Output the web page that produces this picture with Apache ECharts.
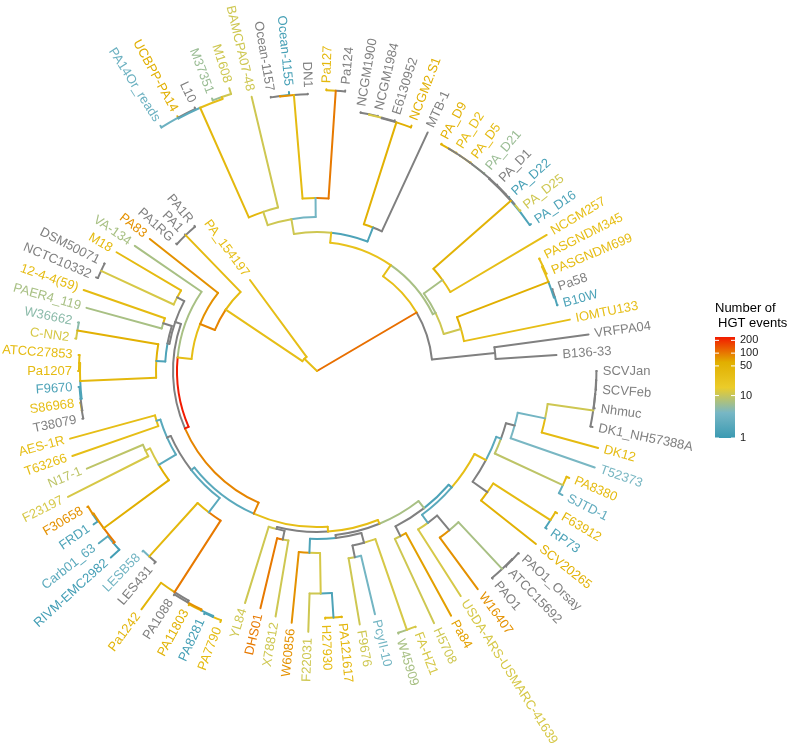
<!DOCTYPE html>
<html><head><meta charset="utf-8">
<script src="https://cdn.jsdelivr.net/npm/echarts@6/dist/echarts.min.js"></script>
<style>html,body{margin:0;padding:0;background:#fff}#c{width:787px;height:751px}</style>
</head><body><div id="c"></div>
<script>
// ---------- DATA ----------
// Tips in leaf order (clockwise, starting at SCVJan)
const tipNames = ["SCVJan","SCVFeb","Nhmuc","DK1_NH57388A","DK12","T52373","PA8380","SJTD-1","F63912","RP73",
"SCV20265","PAO1_Orsay","ATCC15692","PAO1","W16407","USDA-ARS-USMARC-41639","Pa84","H5708","FA-HZ1","W45909",
"PcyII-10","F9676","PA121617","H27930","F22031","W60856","X78812","DHS01","YL84","PA7790",
"PA8281","PA11803","PA1088","Pa1242","LES431","LESB58","RIVM-EMC2982","Carb01_63","FRD1","F30658",
"F23197","N17-1","T63266","AES-1R","T38079","S86968","F9670","Pa1207","ATCC27853","C-NN2",
"W36662","PAER4_119","12-4-4(59)","NCTC10332","DSM50071","M18","VA-134","PA83","PA1RG","PA1",
"PA1R","PA_154197","PA14Or_reads","UCBPP-PA14","L10","M37351","M1608","BAMCPA07-48","Ocean-1157","Ocean-1155",
"DN1","Pa127","Pa124","NCGM1900","NCGM1984","E6130952","NCGM2.S1","MTB-1","PA_D9","PA_D2",
"PA_D5","PA_D21","PA_D1","PA_D22","PA_D25","PA_D16","NCGM257","PASGNDM345","PASGNDM699","Pa58",
"B10W","IOMTU133","VRFPA04","B136-33"];
const tipParent = ["NS1","NS1","NS2","NS","NSD","NT5","NPS","NPS","NFR6","NFR6",
"NSC","NPAO1","NPAO1","NPAO","NPW","NUP","NPH","NPH","NFW","NFW",
"NPF","NPF","NPH2","NPH2","NF22","NW6","NXD","NXD","NYX","N3",
"N3","N2","N1","NPA","NL","NL","NFR2","NFR2","NFR1","NFR1",
"NF","NF","NAT","NAT","NA3","NA3","NA2","NA1","NA1","NWC",
"NWC","N12P","N12P","NDa","NDa","NM","E","D","NPA1","NPA1",
"NPA1","B","NP","NP","NP","NMM","NMM","NB","NO1","NO1",
"NO","NPa","NPa","NC1","NC1","NC2","NC3","NX","ND6","ND6",
"ND5","ND4","ND3","ND2","ND2","ND","NQ","NG1","NG1","NG2",
"NG2","NI","NVB","NVB"];
// distance from root (tip depth)
const tipDepth = [0.2798,0.2798,0.2802,0.2812,0.2915,0.2940,0.2740,0.2750,0.2790,0.2785,
0.2790,0.2722,0.2722,0.2720,0.2710,0.2670,0.2790,0.2780,0.2745,0.2750,
0.2500,0.2570,0.2475,0.2480,0.2610,0.2530,0.2490,0.2440,0.2430,0.2690,
0.2680,0.2670,0.2660,0.2960,0.2520,0.2510,0.2780,0.2780,0.2710,0.2670,
0.2790,0.2500,0.2590,0.2560,0.2395,0.2390,0.2390,0.2390,0.2390,0.2440,
0.2440,0.2390,0.2470,0.2400,0.2385,0.2330,0.2210,0.2130,0.1900,0.1900,
0.1900,0.1130,0.2910,0.2905,0.2905,0.2920,0.2960,0.2820,0.2780,0.2805,
0.2775,0.2820,0.2820,0.2625,0.2625,0.2625,0.2630,0.2630,0.2592,0.2592,
0.2592,0.2592,0.2592,0.2592,0.2592,0.2595,0.2670,0.2495,0.2495,0.2495,
0.2495,0.2580,0.2740,0.2400];
// number of HGT events on the terminal branch (null = not available)
const tipHGT = [null,null,null,null,35,4,35,2.5,40,1.5,
55,null,null,null,80,12,70,11,12,7,
3.5,11,45,35,11,80,11,100,11,35,
1.3,50,null,45,null,3.5,1.2,2,1.5,80,
12,9,30,30,null,30,1.5,35,35,12,
5,7,35,null,null,35,7,80,null,null,
null,30,3,60,null,6,11,11,null,1.3,
null,40,null,null,null,null,60,null,55,30,
35,6,null,1.3,11,1.5,30,30,35,null,
1.5,30,null,null];

// Internal nodes
const nodeNames  = ["root","A","NVB","NUU","NV","NQ","ND","ND1","ND4","ND5","ND6","ND3","ND2",
"NI","NG","NG1","NG2","NT","NX","NC3","NC2","NC1","NBOP","NB","NLT","NP","NMM","NOP","NO","NO1","NPa",
"B","C","NPA1","D","E","F","H","NM","NDa","NY","N12P","NX1","NWC","NA","NA1","NA2","NA3",
"G","G1","NAN","NAT","NF2","NF","NFR","NFR1","NFR2","NLP","NL","NPA","N1","N2","N3",
"G2","NYX","NXD","GR","NLO","NW6","NF22","NPH2","NPFW","NPF","NFW","NBB","NPH","NAA","NUP","NPW","NPAO","NPAO1",
"NU","NTP","NT5","NSD","NS","NS2","NS1","NPS","NSC","NFR6"];
const nodeParent = [null,"root","A","A","NUU","NV","NQ","ND","ND1","ND4","ND5","ND1","ND3",
"NV","NI","NG","NG","NUU","NT","NX","NC3","NC2","NT","NBOP","NB","NLT","NLT","NBOP","NOP","NO","NOP",
"root","B","C","C","D","E","F","H","NM","H","NY","NY","NX1","NX1","NA","NA","NA2",
"F","G","G1","NAN","NAN","NF2","NF2","NFR","NFR","G1","NLP","NLP","NPA","N1","N2",
"G","G2","NYX","G2","GR","NLO","NW6","NF22","NLO","NPFW","NPFW","GR","NBB","NBB","NAA","NUP","NPW","NPAO",
"NAA","NU","NTP","NT5","NSD","NS","NS2","NTP","NU","NSC"];
const nodeDepth  = [0,0.1155,0.1790,0.1290,0.1320,0.1550,0.2580,0.2585,0.2585,0.2585,0.2585,0.2585,0.2585,
0.1500,0.2480,0.2490,0.2490,0.1390,0.1540,0.2610,0.2615,0.2620,0.1540,0.1680,0.2880,0.2890,0.2900,0.1730,0.2770,0.2775,0.2810,
0.0176,0.1100,0.1890,0.1260,0.1400,0.1440,0.1500,0.1580,0.2380,0.1520,0.1610,0.1610,0.2430,0.2370,0.2380,0.2380,0.2385,
0.1560,0.1600,0.1640,0.1680,0.1840,0.1890,0.2650,0.2660,0.2665,0.1780,0.2500,0.2630,0.2650,0.2660,0.2670,
0.1610,0.1630,0.1720,0.1650,0.1680,0.1820,0.2225,0.2470,0.1780,0.1900,0.2740,0.1740,0.1850,0.1780,0.1880,0.2070,0.2710,0.2715,
0.1910,0.1960,0.2050,0.2330,0.2790,0.2792,0.2794,0.2710,0.2090,0.2770];
const nodeHGT    = [null,110,null,30,7,7,50,null,null,null,null,null,null,
11,60,30,1.5,25,1.5,55,null,12,11,11,40,2,30,3.5,35,80,100,
30,30,35,90,30,240,null,null,12,null,null,1.5,55,40,35,1.5,null,
90,2,null,2,2,12,60,80,100,2,40,100,null,80,1.5,
30,null,null,30,null,1.5,12,1.5,null,null,12,7,null,1.5,2,null,7,null,
30,2,null,3.5,11,null,null,9,null,35];

// colour scale (log10), legend breaks
const paletteColors = ["#3B9AB2","#78B7C5","#EBCC2A","#E1AF00","#F21A00"];
const legendBreaks = [1,10,50,100,200];
const naColor = "#808080";

// ---------- BUILD ----------
const maxHGT = Math.max(...tipHGT.filter(v=>v!=null), ...nodeHGT.filter(v=>v!=null));
const minHGT = 1;
function hexToRgb(h){return [parseInt(h.slice(1,3),16),parseInt(h.slice(3,5),16),parseInt(h.slice(5,7),16)];}
const palRgb = paletteColors.map(hexToRgb);
function colorOf(v){
  if(v==null) return naColor;
  let t=(Math.log10(v)-Math.log10(minHGT))/(Math.log10(maxHGT)-Math.log10(minHGT));
  t=Math.max(0,Math.min(1,t));
  const s=t*(palRgb.length-1); const i=Math.min(Math.floor(s),palRgb.length-2); const f=s-i;
  const a=palRgb[i], b=palRgb[i+1];
  return 'rgb('+a.map((x,k)=>Math.round(x+(b[k]-x)*f)).join(',')+')';
}
const NLEAF = tipNames.length;
const kids = {}; nodeNames.forEach(n=>kids[n]=[]);
tipNames.forEach((t,i)=>kids[tipParent[i]].push({tip:true,i}));
nodeNames.forEach((n,i)=>{ if(nodeParent[i]) kids[nodeParent[i]].push({tip:false,i}); });
const nodeIdx = {}; nodeNames.forEach((n,i)=>nodeIdx[n]=i);
const nodeY = {};
function yOf(name){
  if(name in nodeY) return nodeY[name];
  const ys = kids[name].map(c=>c.tip?c.i:yOf(nodeNames[c.i]));
  const v = ys.reduce((a,b)=>a+b,0)/ys.length; nodeY[name]=v; return v;
}
yOf("root");
const edges = [];
tipNames.forEach((t,i)=>{
  const p=tipParent[i];
  edges.push({value:[tipDepth[i], i, nodeDepth[nodeIdx[p]], nodeY[p]], color:colorOf(tipHGT[i])});
});
nodeNames.forEach((n,i)=>{
  const p=nodeParent[i]; if(!p) return;
  edges.push({value:[nodeDepth[i], nodeY[n], nodeDepth[nodeIdx[p]], nodeY[p]], color:colorOf(nodeHGT[i])});
});
edges.sort((a,b)=>b.value[0]-a.value[0]);
const edgeColors = edges.map(e=>e.color);
const labelData = tipNames.map((t,i)=>[tipDepth[i], i]);
const labelColors = tipHGT.map(colorOf);

const LW = 2;
function renderEdge(params, api){
  const d=api.value(0), y=api.value(1), pd=api.value(2), py=api.value(3);
  const col=edgeColors[params.dataIndex];
  const c0=api.coord([0,0]);
  const p1=api.coord([pd,y]), p2=api.coord([d,y]);
  const ch=[{type:'line',shape:{x1:p1[0],y1:p1[1],x2:p2[0],y2:p2[1]},style:{stroke:col,lineWidth:LW,lineCap:'round'}}];
  if(pd>0){
    const pp=api.coord([pd,py]);
    const r=Math.hypot(pp[0]-c0[0],pp[1]-c0[1]);
    const a1=Math.atan2(pp[1]-c0[1],pp[0]-c0[0]);
    const a2=Math.atan2(p1[1]-c0[1],p1[0]-c0[0]);
    let diff=a2-a1; while(diff>Math.PI) diff-=2*Math.PI; while(diff<=-Math.PI) diff+=2*Math.PI;
    const s = diff>=0 ? a1 : a1+diff, e = diff>=0 ? a1+diff : a1;
    if(Math.abs(diff)>1e-6) ch.push({type:'arc',shape:{cx:c0[0],cy:c0[1],r:r,startAngle:s,endAngle:e,clockwise:true},style:{stroke:col,fill:'none',lineWidth:LW,lineCap:'round'}});
  }
  return {type:'group',children:ch};
}
function renderLabel(params, api){
  const d=api.value(0), y=api.value(1);
  const c0=api.coord([0,0]); const p=api.coord([d,y]);
  const th=Math.atan2(-(p[1]-c0[1]), p[0]-c0[0]);
  const off=6;
  const x=p[0]+Math.cos(th)*off, yy=p[1]-Math.sin(th)*off;
  const right = Math.abs(th) <= Math.PI/2;
  const rot = right ? th : th - Math.PI;
  return {type:'text', x:x, y:yy, rotation:rot,
    style:{text:tipNames[params.dataIndex], fill:labelColors[params.dataIndex],
      font:'13px "Liberation Sans", Arial, sans-serif', align:right?'left':'right', verticalAlign:'middle',
      textAlign:right?'left':'right', textVerticalAlign:'middle'}};
}

// legend
const barX=715, barTop=337, barH=101, barW=20;
const lgLog = v => (Math.log10(v)-Math.log10(minHGT))/(Math.log10(maxHGT)-Math.log10(minHGT));
const legendEls = [
  {type:'text', left:715, top:302, style:{text:'Number of', fill:'#000', font:'13px "Liberation Sans", Arial, sans-serif'}},
  {type:'text', left:718, top:317, style:{text:'HGT events', fill:'#000', font:'13px "Liberation Sans", Arial, sans-serif'}},
  {type:'rect', left:barX, top:barTop, shape:{width:barW,height:barH},
   style:{fill:new echarts.graphic.LinearGradient(0,1,0,0, paletteColors.map((c,i)=>({offset:i/(paletteColors.length-1), color:c})))}}
];
legendBreaks.forEach(v=>{
  const yy = barTop+barH - lgLog(v)*barH;
  legendEls.push({type:'line', shape:{x1:barX,y1:yy,x2:barX+4,y2:yy}, style:{stroke:'#fff',lineWidth:1}});
  legendEls.push({type:'line', shape:{x1:barX+barW-4,y1:yy,x2:barX+barW,y2:yy}, style:{stroke:'#fff',lineWidth:1}});
  legendEls.push({type:'text', x:barX+barW+5, y:yy, style:{text:String(v), fill:'#1a1a1a', font:'11px "Liberation Sans", Arial, sans-serif', verticalAlign:'middle', textVerticalAlign:'middle'}});
});

const chart = echarts.init(document.getElementById('c'));
chart.setOption({
  animation:false,
  backgroundColor:'#fff',
  polar:{center:[317,371], radius:300},
  radiusAxis:{type:'value', min:0, max:0.3, show:false, axisLine:{show:false}, axisLabel:{show:false}, axisTick:{show:false}, splitLine:{show:false}},
  angleAxis:{type:'value', min:0, max:NLEAF, startAngle:0, clockwise:true, show:false, axisLine:{show:false}, axisLabel:{show:false}, axisTick:{show:false}, splitLine:{show:false}},
  graphic:legendEls,
  series:[
    {type:'custom', coordinateSystem:'polar', renderItem:renderEdge, data:edges.map(e=>e.value), silent:true, clip:false},
    {type:'custom', coordinateSystem:'polar', renderItem:renderLabel, data:labelData, silent:true, clip:false}
  ]
});
</script></body></html>
